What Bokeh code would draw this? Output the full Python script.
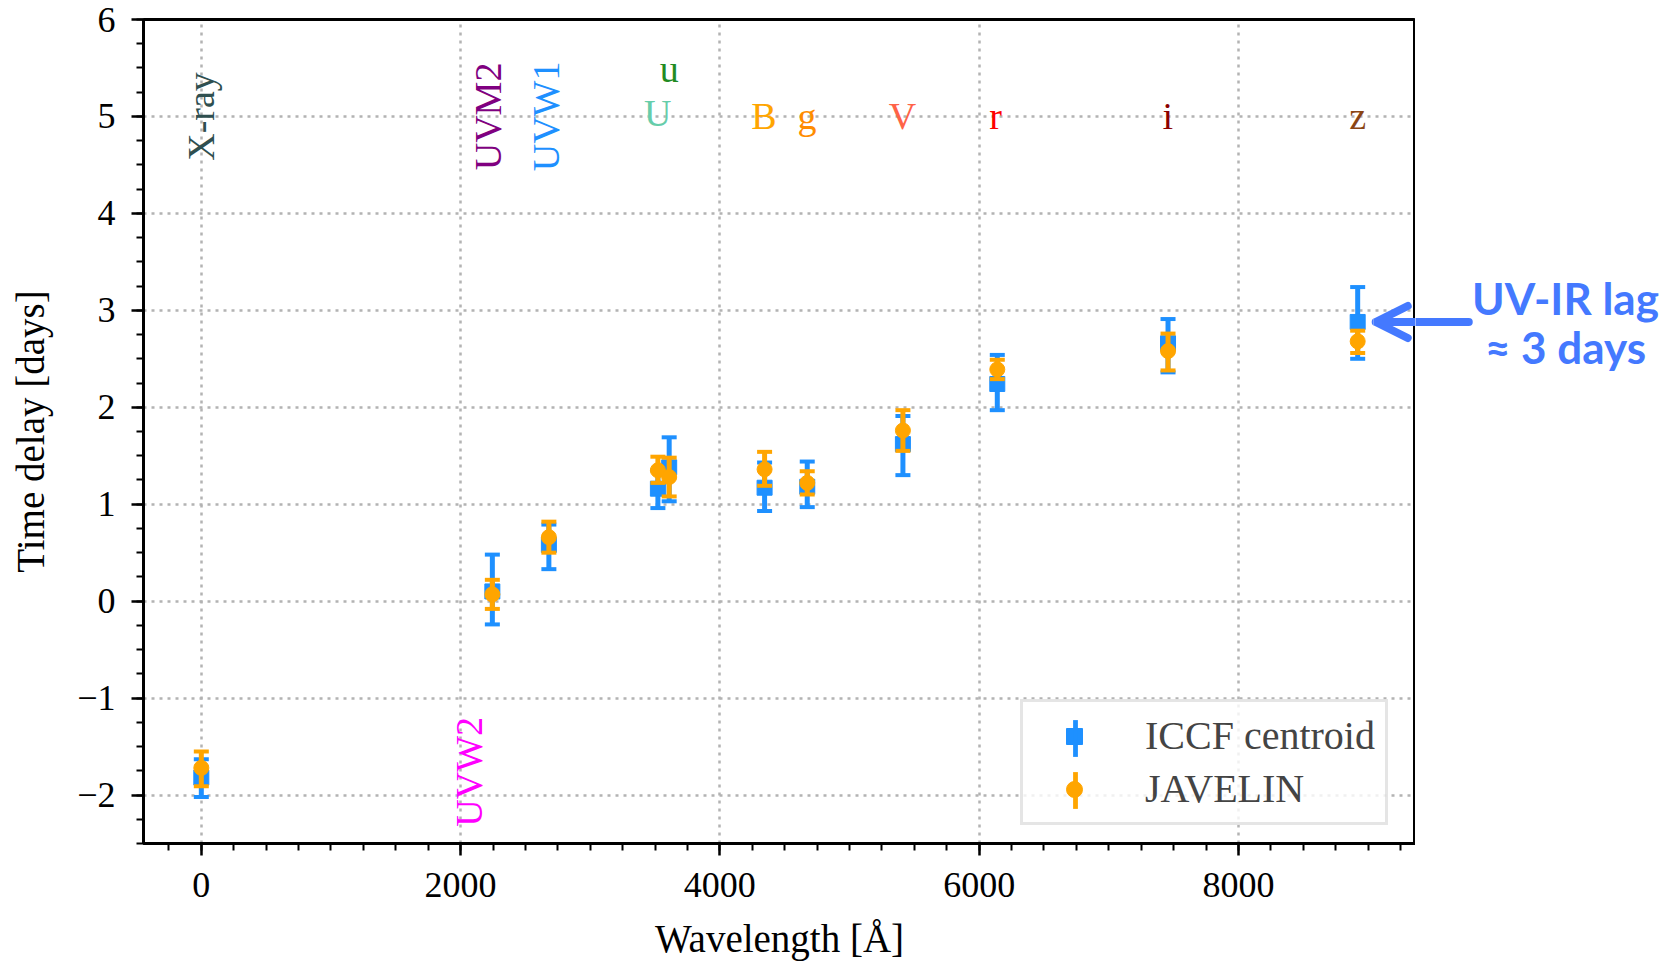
import numpy as np
from bokeh.plotting import figure
from bokeh.layouts import row
from bokeh.models import (ColumnDataSource, Range1d, SingleIntervalTicker, Legend,
                          LegendItem, Label, Arrow, OpenHead)
from bokeh.core.properties import value
from bokeh.embed import file_html
from bokeh.resources import INLINE

# ---------------- data ----------------
wavelength = [0, 2245, 2681, 3522, 3609, 4345, 4674, 5412, 6140, 7457, 8920]
iccf_lag = [-1.82, 0.10, 0.58, 1.16, 1.38, 1.17, 1.18, 1.62, 2.24, 2.66, 2.88]
iccf_upper = [-1.63, 0.48, 0.79, 1.35, 1.69, 1.43, 1.44, 1.91, 2.54, 2.91, 3.24]
iccf_lower = [-2.02, -0.24, 0.33, 0.96, 1.03, 0.93, 0.97, 1.30, 1.97, 2.36, 2.50]
jav_lag = [-1.72, 0.07, 0.66, 1.35, 1.28, 1.36, 1.22, 1.76, 2.39, 2.58, 2.68]
jav_upper = [-1.55, 0.22, 0.82, 1.49, 1.48, 1.54, 1.34, 1.97, 2.49, 2.76, 2.79]
jav_lower = [-1.91, -0.08, 0.50, 1.22, 1.08, 1.19, 1.10, 1.55, 2.29, 2.38, 2.56]

band_names = ["X-ray", "UVW2", "UVM2", "UVW1", "U", "u", "B", "g", "V", "r", "i", "z"]
band_x = [0, 2064, 2215, 2662, 3521, 3610, 4340, 4673, 5409, 6127, 7455, 8920]
band_y = [5.0, -1.76, 5.0, 5.0, 5.04, 5.49, 5.0, 5.0, 5.0, 5.0, 5.0, 5.0]
band_rot = [90, 90, 90, 90, 0, 0, 0, 0, 0, 0, 0, 0]
band_colors = ["#2F4F4F", "#FF00FF", "#800080", "#1E90FF", "#66CDAA", "#228B22",
               "#FFA500", "#FF8C00", "#FF6347", "#FF0000", "#8B0000", "#8B4513"]

annot_lines = ["UV-IR lag", "≈ 3 days"]

ICCF_C = "#1E90FF"
JAV_C = "#FFA500"
SERIF = "Liberation Serif"
ANN_C = "#4479FF"

X0, X1 = -446, 9366
YR = Range1d(-2.5, 6)

p = figure(frame_width=1272, frame_height=824, output_backend="svg", toolbar_location=None,
           x_range=Range1d(X0, X1), y_range=YR,
           min_border_left=143, min_border_right=0, min_border_top=19, min_border_bottom=119)

p.background_fill_color = "white"
p.border_fill_color = "white"
p.outline_line_color = "black"
p.outline_line_width = 3

p.xaxis.ticker = SingleIntervalTicker(interval=2000, num_minor_ticks=8)
p.yaxis.ticker = SingleIntervalTicker(interval=1, num_minor_ticks=4)
p.yaxis.major_label_overrides = {-2: "\u22122", -1: "\u22121"}

for ax in (p.xaxis, p.yaxis):
    ax.axis_line_width = 3
    ax.axis_line_color = "black"
    ax.major_tick_in = 0
    ax.major_tick_out = 12
    ax.minor_tick_in = 0
    ax.minor_tick_out = 7
    ax.major_tick_line_width = 2.5
    ax.minor_tick_line_width = 2
    ax.major_label_text_font = SERIF
    ax.major_label_text_font_size = "36px"
    ax.major_label_text_color = "black"
    ax.axis_label_text_font = SERIF
    ax.axis_label_text_font_size = "39px"
    ax.axis_label_text_font_style = "normal"
    ax.axis_label_text_color = "black"

p.xaxis.axis_label = "Wavelength [Å]"
p.yaxis.axis_label = "Time delay [days]"
p.xaxis.major_label_standoff = 17
p.yaxis.major_label_standoff = 16
p.xaxis.axis_label_standoff = 17
p.yaxis.axis_label_standoff = 22

for g in (p.xgrid, p.ygrid):
    g.grid_line_color = "#b3b3b3"
    g.grid_line_width = 2.5
    g.grid_line_dash = "3 5"

src = ColumnDataSource(dict(w=wavelength, il=iccf_lag, iu=iccf_upper, ilo=iccf_lower,
                            jl=jav_lag, ju=jav_upper, jlo=jav_lower))

# ICCF errorbars
p.segment(x0="w", y0="ilo", x1="w", y1="iu", source=src, line_color=ICCF_C, line_width=5)
p.scatter(x="w", y="iu", source=src, marker="dash", size=15, line_color=ICCF_C, line_width=4)
p.scatter(x="w", y="ilo", source=src, marker="dash", size=15, line_color=ICCF_C, line_width=4)
iccf_r = p.scatter(x="w", y="il", source=src, marker="square", size=15,
                   fill_color=ICCF_C, line_color=ICCF_C)
# JAVELIN errorbars
p.segment(x0="w", y0="jlo", x1="w", y1="ju", source=src, line_color=JAV_C, line_width=5)
p.scatter(x="w", y="ju", source=src, marker="dash", size=15, line_color=JAV_C, line_width=4)
p.scatter(x="w", y="jlo", source=src, marker="dash", size=15, line_color=JAV_C, line_width=4)
jav_r = p.scatter(x="w", y="jl", source=src, marker="circle", size=15,
                  fill_color=JAV_C, line_color=JAV_C)

# band labels
bsrc = ColumnDataSource(dict(x=band_x, y=band_y, t=band_names,
                             a=[np.deg2rad(r) for r in band_rot], c=band_colors))
p.text(x="x", y="y", text="t", angle="a", text_color="c", source=bsrc,
       text_align="center", text_baseline="middle",
       text_font=value(SERIF), text_font_size="38px")

# legend: frame, labels and markers
legA = Legend(items=[LegendItem(label="ICCF centroid", renderers=[iccf_r]),
                     LegendItem(label="JAVELIN", renderers=[jav_r])],
              location=(877, 18), padding=10, spacing=6, glyph_width=82, glyph_height=40,
              label_height=46, label_standoff=30, label_text_font=SERIF,
              label_text_font_size="40px", border_line_color="#cccccc", border_line_width=3,
              background_fill_alpha=0.8, margin=0)
# legend: vertical error bars drawn through the markers
bar_i = p.vbar(x=[np.nan], top=[np.nan], bottom=[np.nan], width=1,
               fill_color=ICCF_C, line_color=None)
bar_j = p.vbar(x=[np.nan], top=[np.nan], bottom=[np.nan], width=1,
               fill_color=JAV_C, line_color=None)
legB = Legend(items=[LegendItem(label=" ", renderers=[bar_i]),
                     LegendItem(label=" ", renderers=[bar_j])],
              location=(929, 30), padding=10, spacing=6, glyph_width=6, glyph_height=46,
              label_height=46, label_standoff=0, label_text_font=SERIF,
              label_text_font_size="40px", border_line_color=None,
              background_fill_alpha=0, margin=0)
p.add_layout(legA)
p.add_layout(legB)

# arrow head part inside the frame
p.add_layout(Arrow(end=OpenHead(size=32, line_width=8, line_color=ANN_C, line_cap="round"),
                   x_start=9777, y_start=2.88, x_end=9059, y_end=2.88,
                   line_color=ANN_C, line_width=8, line_cap="round"))

# side panel for the annotation (outside the frame)
side = figure(frame_width=259, frame_height=824, output_backend="svg", toolbar_location=None,
              x_range=Range1d(X1, X1 + 259 * (X1 - X0) / 1272), y_range=YR,
              min_border_left=0, min_border_right=0, min_border_top=19, min_border_bottom=119,
              x_axis_location=None, y_axis_location=None)
side.outline_line_color = None
side.grid.visible = False
side.background_fill_color = "white"
side.border_fill_color = "white"
side.add_layout(Arrow(end=None, x_start=9777, y_start=2.88, x_end=9300, y_end=2.88,
                      line_color=ANN_C, line_width=8, line_cap="round"))
side.add_layout(Label(x=10523, y=3.13, text=annot_lines[0], text_align="center",
                      text_baseline="middle", text_font="Lato", text_font_style="bold",
                      text_font_size="44px", text_color=ANN_C))
side.add_layout(Label(x=10523, y=2.62, text=annot_lines[1], text_align="center",
                      text_baseline="middle", text_font="Lato", text_font_style="bold",
                      text_font_size="44px", text_color=ANN_C))

layout = row(p, side, spacing=0)
open("out.html", "w").write(file_html(layout, INLINE))
